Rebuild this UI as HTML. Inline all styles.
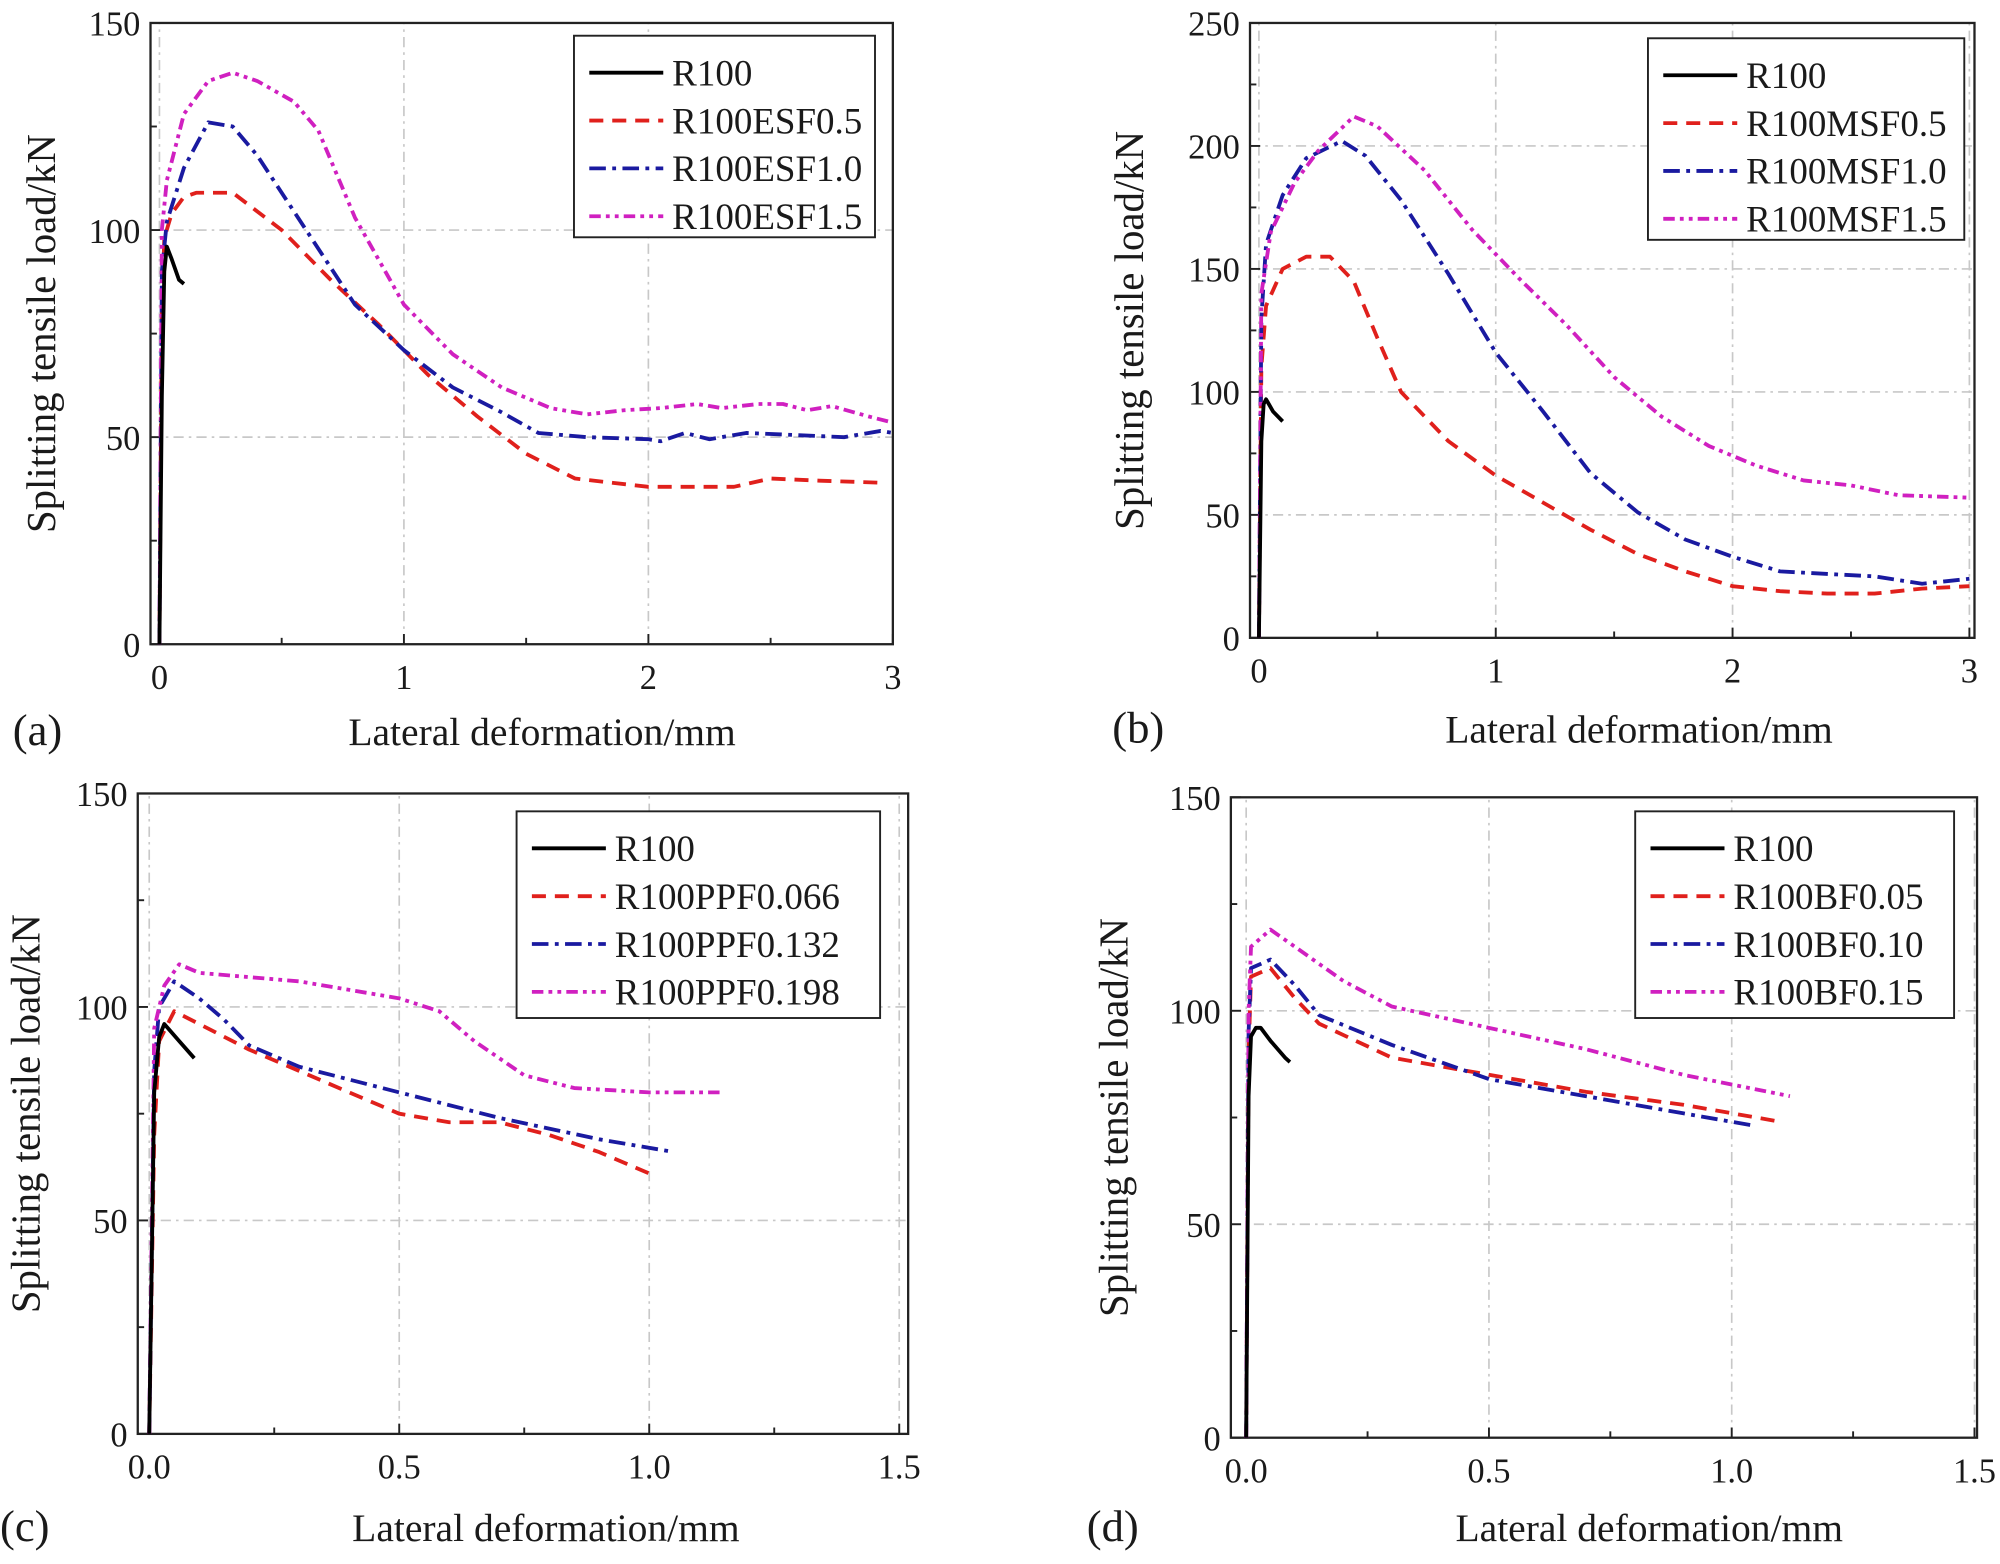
<!DOCTYPE html>
<html><head><meta charset="utf-8"><style>
html,body{margin:0;padding:0;background:#fff;}
svg{display:block;}
text{font-family:"Liberation Serif","DejaVu Serif",serif;fill:#1a1a1a;}
</style></head><body>
<svg id="s" width="2000" height="1564" viewBox="0 0 1568 1226" preserveAspectRatio="none" xmlns="http://www.w3.org/2000/svg"></svg>
<script>
const S=document.getElementById('s');let h='';
const ST={k:{c:'#000',d:''},r:{c:'#e0201c',d:'11,7'},b:{c:'#1a1aa0',d:'13,5,3,5'},m:{c:'#d020c0',d:'9,4,3,4,3,4'}};
function panel(P){
 const X=v=>P.x0+(v-P.xmin)*(P.x1-P.x0)/(P.xmax-P.xmin);
 const Y=v=>P.y0-v*(P.y0-P.y1)/P.ymax;
 P.xt.forEach(v=>{h+=`<line x1="${X(v)}" y1="${P.fy0}" x2="${X(v)}" y2="${P.fy1}" stroke="#c8c8c8" stroke-width="1.3" stroke-dasharray="8,4,2,4"/>`;});
 P.yt.forEach(v=>{if(v>0&&v<P.ymax)h+=`<line x1="${P.fx0}" y1="${Y(v)}" x2="${P.fx1}" y2="${Y(v)}" stroke="#c8c8c8" stroke-width="1.3" stroke-dasharray="8,4,2,4"/>`;});
 h+=`<rect x="${P.fx0}" y="${P.fy1}" width="${P.fx1-P.fx0}" height="${P.fy0-P.fy1}" fill="none" stroke="#222" stroke-width="1.8"/>`;
 P.xt.forEach(v=>{h+=`<line x1="${X(v)}" y1="${P.fy0}" x2="${X(v)}" y2="${P.fy0-8}" stroke="#222" stroke-width="1.5"/><text x="${X(v)}" y="${P.fy0+35}" font-size="27" text-anchor="middle">${P.xf(v)}</text>`;});
 P.xm.forEach(v=>{h+=`<line x1="${X(v)}" y1="${P.fy0}" x2="${X(v)}" y2="${P.fy0-5}" stroke="#222" stroke-width="1.5"/>`;});
 P.yt.forEach(v=>{h+=`<line x1="${P.fx0}" y1="${Y(v)}" x2="${P.fx0+8}" y2="${Y(v)}" stroke="#222" stroke-width="1.5"/><text x="${P.fx0-8}" y="${Y(v)+10}" font-size="27" text-anchor="end">${v}</text>`;});
 P.ym.forEach(v=>{h+=`<line x1="${P.fx0}" y1="${Y(v)}" x2="${P.fx0+5}" y2="${Y(v)}" stroke="#222" stroke-width="1.5"/>`;});
 P.s.forEach(([k,pts])=>{const st=ST[k];h+=`<polyline fill="none" stroke="${st.c}" stroke-width="3" stroke-linejoin="round" ${st.d?`stroke-dasharray="${st.d}"`:''} points="${pts.map(p=>X(p[0]).toFixed(1)+','+Y(p[1]).toFixed(1)).join(' ')}"/>`;});
 const L=P.lg;h+=`<rect x="${L.x}" y="${L.y}" width="${L.w}" height="${L.h}" fill="#fff" stroke="#222" stroke-width="1.5"/>`;
 P.names.forEach((n,i)=>{const k=['k','r','b','m'][i],st=ST[k],yy=L.y+29+i*37.5;
  h+=`<line x1="${L.x+12}" y1="${yy}" x2="${L.x+70}" y2="${yy}" stroke="${st.c}" stroke-width="3" ${st.d?`stroke-dasharray="${st.d}"`:''}/><text x="${L.x+77}" y="${yy+10}" font-size="29">${n}</text>`;});
 h+=`<text transform="translate(${P.ylx},${(P.fy0+P.fy1)/2}) rotate(-90)" font-size="32" text-anchor="middle">Splitting tensile load/kN</text>`;
 h+=`<text x="${P.xlx}" y="${P.xly}" font-size="31" text-anchor="middle">Lateral deformation/mm</text>`;
 h+=`<text x="${P.lx}" y="${P.xly}" font-size="35">${P.lab}</text>`;
}
const i0=v=>String(v), f1=v=>v.toFixed(1);
panel({fx0:118,fx1:700,fy0:505,fy1:18,x0:125,x1:700,xmin:0,xmax:3,y0:505,y1:18,ymax:150,
 xt:[0,1,2,3],xm:[0.5,1.5,2.5],yt:[0,50,100,150],ym:[25,75,125],xf:i0,
 lg:{x:450,y:28,w:236,h:158},names:['R100','R100ESF0.5','R100ESF1.0','R100ESF1.5'],
 ylx:43,xlx:425,xly:584,lx:10,lab:'(a)',
 s:[['r',[[0,0],[0.01,80],[0.02,98],[0.05,104],[0.1,108],[0.15,109],[0.3,109],[0.5,100],[0.7,88],[0.9,77],[1.1,65],[1.3,55],[1.5,46],[1.7,40],[1.85,39],[2,38],[2.2,38],[2.35,38],[2.5,40],[2.7,39.5],[2.95,39]]],
 ['b',[[0,0],[0.01,90],[0.03,102],[0.1,115],[0.2,126],[0.3,125],[0.4,118],[0.6,100],[0.8,82],[1,71],[1.2,62],[1.4,56],[1.55,51],[1.75,50],[2,49.5],[2.05,49],[2.15,51],[2.25,49.5],[2.4,51],[2.6,50.5],[2.8,50],[2.95,51.5],[3,51]]],
 ['m',[[0,0],[0.01,100],[0.03,112],[0.1,128],[0.2,136],[0.3,138],[0.4,136],[0.55,131],[0.65,124],[0.8,103],[1,82],[1.2,70],[1.4,62],[1.6,57],[1.75,55.5],[1.9,56.5],[2.05,57],[2.2,58],[2.3,57],[2.45,58],[2.55,58],[2.65,56.5],[2.75,57.5],[2.9,55],[3,53.5]]],
 ['k',[[0,0],[0.01,60],[0.02,90],[0.03,96],[0.05,93],[0.08,88],[0.1,87]]]]});
panel({fx0:980,fx1:1548,fy0:500,fy1:18,x0:987,x1:1544,xmin:0,xmax:3,y0:500,y1:18,ymax:250,
 xt:[0,1,2,3],xm:[0.5,1.5,2.5],yt:[0,50,100,150,200,250],ym:[25,75,125,175,225],xf:i0,
 lg:{x:1292,y:30,w:248,h:158},names:['R100','R100MSF0.5','R100MSF1.0','R100MSF1.5'],
 ylx:896,xlx:1285,xly:582,lx:872,lab:'(b)',
 s:[['r',[[0,0],[0.01,110],[0.03,135],[0.1,150],[0.2,155],[0.3,155],[0.4,145],[0.5,122],[0.6,100],[0.8,80],[1,66],[1.2,55],[1.4,44],[1.6,34],[1.8,27],[2,21],[2.2,19],[2.4,18],[2.6,18],[2.8,20],[3,21]]],
 ['b',[[0,0],[0.01,130],[0.03,160],[0.1,180],[0.2,195],[0.35,202],[0.45,196],[0.6,178],[0.8,148],[1,116],[1.2,92],[1.4,67],[1.6,51],[1.8,40],[2,33],[2.2,27],[2.4,26],[2.6,25],[2.8,22],[3,24]]],
 ['m',[[0,0],[0.01,140],[0.05,165],[0.15,185],[0.25,198],[0.4,212],[0.5,208],[0.7,190],[0.9,166],[1.1,146],[1.3,127],[1.5,106],[1.7,90],[1.9,78],[2.1,70],[2.3,64],[2.5,62],[2.7,58],[3,57]]],
 ['k',[[0,0],[0.01,80],[0.02,95],[0.03,97],[0.06,92],[0.1,88]]]]});
panel({fx0:108,fx1:712,fy0:1124,fy1:622,x0:117,x1:705,xmin:0,xmax:1.5,y0:1124,y1:622,ymax:150,
 xt:[0,0.5,1,1.5],xm:[0.25,0.75,1.25],yt:[0,50,100,150],ym:[25,75,125],xf:f1,
 lg:{x:405,y:636,w:285,h:162},names:['R100','R100PPF0.066','R100PPF0.132','R100PPF0.198'],
 ylx:31,xlx:428,xly:1208,lx:0,lab:'(c)',
 s:[['r',[[0,0],[0.01,70],[0.02,92],[0.05,99],[0.1,96],[0.2,90],[0.3,85],[0.4,80],[0.5,75],[0.6,73],[0.7,73],[0.8,70],[0.9,66],[1,61]]],
 ['b',[[0,0],[0.01,85],[0.02,100],[0.05,106],[0.1,102],[0.15,97],[0.2,91],[0.3,86],[0.5,80],[0.7,74],[0.9,69],[1.05,66]]],
 ['m',[[0,0],[0.01,95],[0.03,105],[0.06,110],[0.1,108],[0.3,106],[0.5,102],[0.58,99],[0.65,92],[0.75,84],[0.85,81],[1,80],[1.15,80]]],
 ['k',[[0,0],[0.01,80],[0.02,93],[0.03,96],[0.06,92],[0.09,88]]]]});
panel({fx0:965,fx1:1550,fy0:1127,fy1:625,x0:977,x1:1548,xmin:0,xmax:1.5,y0:1127,y1:625,ymax:150,
 xt:[0,0.5,1,1.5],xm:[0.25,0.75,1.25],yt:[0,50,100,150],ym:[25,75,125],xf:f1,
 lg:{x:1282,y:636,w:250,h:162},names:['R100','R100BF0.05','R100BF0.10','R100BF0.15'],
 ylx:884,xlx:1293,xly:1208,lx:852,lab:'(d)',
 s:[['r',[[0,0],[0.005,90],[0.01,108],[0.03,109],[0.05,110],[0.1,103],[0.15,97],[0.3,89],[0.5,85],[0.7,81],[0.9,78],[1.1,74]]],
 ['b',[[0,0],[0.005,95],[0.01,110],[0.05,112],[0.1,106],[0.15,99],[0.3,92],[0.5,84],[0.7,80],[0.9,76],[1.05,73]]],
 ['m',[[0,0],[0.005,100],[0.01,115],[0.05,119],[0.1,115],[0.2,107],[0.3,101],[0.5,96],[0.7,91],[0.9,85],[1.12,80]]],
 ['k',[[0,0],[0.005,80],[0.01,94],[0.02,96],[0.03,96],[0.05,93],[0.08,89],[0.09,88]]]]});
S.innerHTML=h;
</script>
</body></html>
